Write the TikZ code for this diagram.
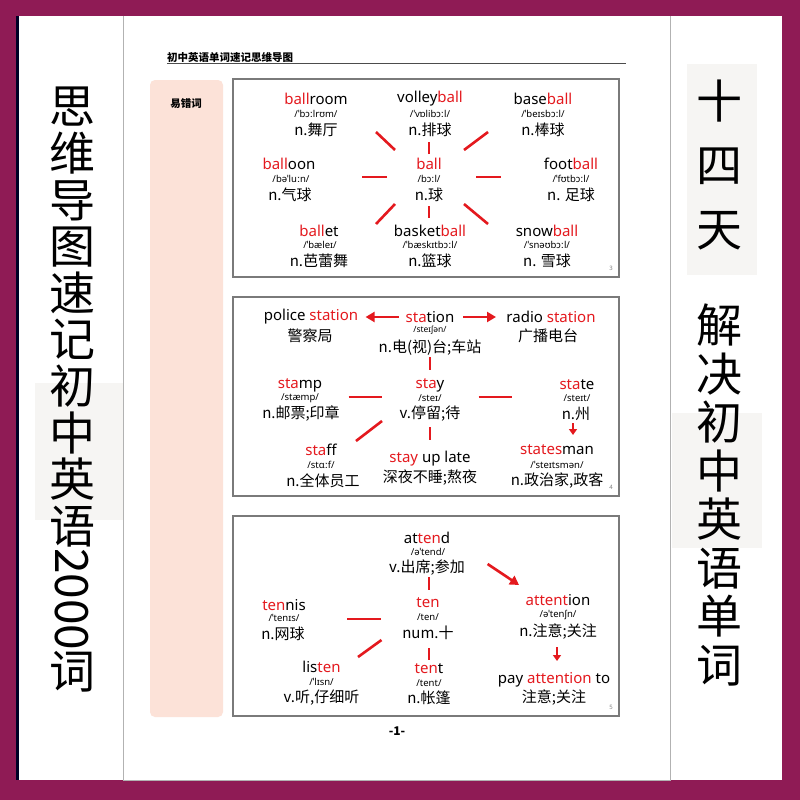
\documentclass[tikz,border=0pt]{standalone}
\usepackage{fontspec}
\setmainfont{Noto Sans}
\newfontfamily\cjk{Noto Sans CJK SC}
\usepackage{xcolor}
\usepackage{graphicx}
\usetikzlibrary{arrows.meta, positioning}

\definecolor{bgmaroon}{HTML}{8F1B55}
\definecolor{accent}{HTML}{E4191E}
\definecolor{pinkbox}{HTML}{FCE2D8}
\definecolor{patch}{HTML}{F6F5F3}
\definecolor{frame}{HTML}{7A7A7A}
\newcommand{\hl}[1]{\textcolor{accent}{#1}}

\begin{document}
\begin{tikzpicture}[
    x=1pt, y=-1pt,
    word/.style={inner sep=0pt, font=\fontsize{15}{15}\selectfont},
    ipa/.style={inner sep=0pt, font=\fontsize{9.5}{9.5}\selectfont},
    mean/.style={inner sep=0pt, font=\cjk\fontsize{15}{15}\selectfont},
    panel/.style={draw=frame, line width=1.3pt, fill=white},
    pagenum/.style={inner sep=0pt, text=gray, font=\fontsize{6}{6}\selectfont},
    sidetext/.style={inner sep=0pt, align=center, font=\cjk\fontsize{46}{46.6}\selectfont},
    ray/.style={draw=accent, line width=2.6pt},
    arrow/.style={ray, -{Triangle[length=9pt, width=10pt]}},
    smallarrow/.style={ray, -{Triangle[length=6pt, width=8pt]}}
]
% background and page
\useasboundingbox (0,0) rectangle (800,800);
\fill[bgmaroon] (0,0) rectangle (800,800);
\fill[white] (16,16) rectangle (782,780);
\fill[black!85!blue] (16,16) rectangle (19,780);
\fill[patch] (35,383) rectangle (123,520);
\fill[patch] (687,64) rectangle (757,275);
\fill[patch] (672,413) rectangle (762,548);
\draw[black!30, line width=0.8pt] (123.5,16) -- (123.5,780) -- (670,780) -- (670,16);

% side titles
\node[sidetext, anchor=north] (lefttop) at (72,87) {思\\维\\导\\图\\速\\记\\初\\中\\英\\语};
\node[sidetext, below=1pt of lefttop] (leftnum) {\rotatebox{-90}{2000}};
\node[sidetext, below=1pt of leftnum] (leftend) {词};
\node[sidetext, anchor=north, font=\cjk\fontsize{46}{64}\selectfont] (righttop) at (719,80) {十\\四\\天};
\node[sidetext, anchor=north, font=\cjk\fontsize{46}{48.5}\selectfont] (rightbot) at (719,304) {解\\决\\初\\中\\英\\语\\单\\词};

% page header
\node[anchor=west, inner sep=0pt, font=\cjk\bfseries\fontsize{10.5}{10.5}\selectfont] (header) at (167,57) {初中英语单词速记思维导图};
\draw[black!70, line width=0.8pt] (167,63) -- (626,63);
\fill[pinkbox, rounded corners=5pt] (150,80) rectangle (223,717);
\node[inner sep=0pt, font=\cjk\bfseries\fontsize{10.5}{10.5}\selectfont] (tag) at (186,104) {易错词};
\node[inner sep=0pt, font=\cjk\bfseries\fontsize{12}{12}\selectfont] (pageno) at (397,731) {-1-};

% panel 1: ball
\draw[panel] (233,79) rectangle (619,277);
\node[pagenum] (p3) at (611,268) {3};
\node[word] (ballroom) at (316,99) {\hl{ball}room};
\node[ipa] (ballroom-ipa) at (316,114) {/ˈbɔːlrʊm/};
\node[mean] (ballroom-cn) at (316,129.5) {n.舞厅};
\node[word] (volleyball) at (430,99) {volley\hl{ball}};
\node[ipa] (volleyball-ipa) at (430,114) {/ˈvɒlibɔːl/};
\node[mean] (volleyball-cn) at (430,129.5) {n.排球};
\node[word] (baseball) at (543,99) {base\hl{ball}};
\node[ipa] (baseball-ipa) at (543,114) {/ˈbeɪsbɔːl/};
\node[mean] (baseball-cn) at (543,129.5) {n.棒球};
\node[word] (balloon) at (289,164) {\hl{ball}oon};
\node[ipa] (balloon-ipa) at (291,179) {/bəˈluːn/};
\node[mean] (balloon-cn) at (290,195) {n.气球};
\node[word] (ball) at (429,164) {\hl{ball}};
\node[ipa] (ball-ipa) at (429,179) {/bɔːl/};
\node[mean] (ball-cn) at (429,195) {n.球};
\node[word] (football) at (571,164) {foot\hl{ball}};
\node[ipa] (football-ipa) at (571,179) {/ˈfʊtbɔːl/};
\node[mean] (football-cn) at (571,195) {n. 足球};
\node[word] (ballet) at (319,230.5) {\hl{ball}et};
\node[ipa] (ballet-ipa) at (320,245) {/ˈbæleɪ/};
\node[mean] (ballet-cn) at (319,261) {n.芭蕾舞};
\node[word] (basketball) at (430,230.5) {basket\hl{ball}};
\node[ipa] (basketball-ipa) at (430,245) {/ˈbæskɪtbɔːl/};
\node[mean] (basketball-cn) at (430,261) {n.篮球};
\node[word] (snowball) at (547,230.5) {snow\hl{ball}};
\node[ipa] (snowball-ipa) at (547,245) {/ˈsnəʊbɔːl/};
\node[mean] (snowball-cn) at (547,261) {n. 雪球};

\coordinate (ul-in) at (395,150); \coordinate (ul-out) at (376,132);
\coordinate (up-in) at (429,154); \coordinate (up-out) at (429,142);
\coordinate (ur-in) at (464,150); \coordinate (ur-out) at (488,132);
\coordinate (lt-in) at (387,177); \coordinate (lt-out) at (362,177);
\coordinate (rt-in) at (476,177); \coordinate (rt-out) at (501,177);
\coordinate (ll-in) at (395,204); \coordinate (ll-out) at (376,224);
\coordinate (dn-in) at (429,206); \coordinate (dn-out) at (429,218);
\coordinate (lr-in) at (464,204); \coordinate (lr-out) at (488,224);
\draw[ray] (ul-in) -- (ul-out);
\draw[ray] (up-in) -- (up-out);
\draw[ray] (ur-in) -- (ur-out);
\draw[ray] (lt-in) -- (lt-out);
\draw[ray] (rt-in) -- (rt-out);
\draw[ray] (ll-in) -- (ll-out);
\draw[ray] (dn-in) -- (dn-out);
\draw[ray] (lr-in) -- (lr-out);

% panel 2: sta
\draw[panel] (233,297) rectangle (619,496);
\node[pagenum] (p4) at (611,487) {4};
\node[word] (police) at (311,317) {police \hl{station}};
\node[mean] (police-cn) at (310,335.6) {警察局};
\node[word] (station) at (430,317) {\hl{sta}tion};
\node[ipa, font=\fontsize{8.5}{8.5}\selectfont] (station-ipa) at (430,330.6) {/steɪʃən/};
\node[mean] (station-cn) at (430,347.5) {n.电(视)台;车站};
\node[word] (radio) at (551,317) {radio \hl{station}};
\node[mean] (radio-cn) at (548,335.6) {广播电台};
\node[word] (stay) at (430,385) {\hl{sta}y};
\node[ipa] (stay-ipa) at (430,398) {/steɪ/};
\node[mean] (stay-cn) at (430,413.6) {v.停留;待};
\node[word] (stamp) at (300,385) {\hl{sta}mp};
\node[ipa] (stamp-ipa) at (300,398) {/stæmp/};
\node[mean] (stamp-cn) at (301,413.6) {n.邮票;印章};
\node[word] (state) at (577,385) {\hl{sta}te};
\node[ipa] (state-ipa) at (577,398) {/steɪt/};
\node[mean] (state-cn) at (576,413.6) {n.州};
\node[word] (statesman) at (557,450) {\hl{states}man};
\node[ipa] (statesman-ipa) at (557,464.5) {/ˈsteɪtsmən/};
\node[mean] (statesman-cn) at (557,481) {n.政治家,政客};
\node[word] (staff) at (321,450) {\hl{sta}ff};
\node[ipa] (staff-ipa) at (321,464.5) {/stɑːf/};
\node[mean] (staff-cn) at (323,481) {n.全体员工};
\node[word] (stayup) at (430,459) {\hl{stay} up late};
\node[mean] (stayup-cn) at (430,478) {深夜不睡;熬夜};

\coordinate (station-l) at (398.5,317); \coordinate (police-r) at (365.6,317);
\coordinate (station-r) at (463,317); \coordinate (radio-l) at (496,317);
\coordinate (station-d) at (430,357); \coordinate (stay-u) at (430,369.6);
\coordinate (stamp-r) at (348.6,397); \coordinate (stay-l) at (382,397);
\coordinate (stay-r) at (478.5,397); \coordinate (state-l) at (512,397);
\coordinate (stay-dl) at (382,421); \coordinate (staff-ur) at (356,441);
\coordinate (stay-d) at (430,427); \coordinate (stayup-u) at (430,440);
\coordinate (state-d) at (573,423); \coordinate (statesman-u) at (573,435);
\draw[arrow] (station-l) -- (police-r);
\draw[arrow] (station-r) -- (radio-l);
\draw[ray] (station-d) -- (stay-u);
\draw[ray] (stamp-r) -- (stay-l);
\draw[ray] (stay-r) -- (state-l);
\draw[ray] (stay-dl) -- (staff-ur);
\draw[ray] (stay-d) -- (stayup-u);
\draw[smallarrow] (state-d) -- (statesman-u);

% panel 3: ten
\draw[panel] (233,516) rectangle (619,716);
\node[pagenum] (p5) at (611,707) {5};
\node[word] (attend) at (427,538) {at\hl{ten}d};
\node[ipa] (attend-ipa) at (428,552) {/əˈtend/};
\node[mean] (attend-cn) at (427,567.5) {v.出席;参加};
\node[word] (ten) at (428,602.5) {\hl{ten}};
\node[ipa] (ten-ipa) at (428,616.7) {/ten/};
\node[mean] (ten-cn) at (428,633) {num.十};
\node[word] (tennis) at (284,605) {\hl{ten}nis};
\node[ipa] (tennis-ipa) at (284,618) {/ˈtenɪs/};
\node[mean] (tennis-cn) at (283,634) {n.网球};
\node[word] (attention) at (558,600) {\hl{attent}ion};
\node[ipa] (attention-ipa) at (558,615) {/əˈtenʃn/};
\node[mean] (attention-cn) at (558,632) {n.注意;关注};
\node[word] (payatt) at (554,680) {pay \hl{attention} to};
\node[mean] (payatt-cn) at (554,698) {注意;关注};
\node[word] (listen) at (321.5,666.5) {lis\hl{ten}};
\node[ipa] (listen-ipa) at (321.5,682) {/ˈlɪsn/};
\node[mean] (listen-cn) at (321.5,698) {v.听,仔细听};
\node[word] (tent) at (429,668.6) {\hl{ten}t};
\node[ipa] (tent-ipa) at (429,683) {/tent/};
\node[mean] (tent-cn) at (429,698) {n.帐篷};

\coordinate (attend-d) at (429,577); \coordinate (ten-u) at (429,590);
\coordinate (attend-r) at (487.6,564); \coordinate (attention-u) at (519,585);
\coordinate (tennis-r) at (347,619); \coordinate (ten-l) at (381,619);
\coordinate (ten-dl) at (381.5,640); \coordinate (listen-ur) at (358,657);
\coordinate (ten-d) at (429,648); \coordinate (tent-u) at (429,660);
\coordinate (attention-d) at (557,647); \coordinate (payatt-u) at (557,661);
\draw[ray] (attend-d) -- (ten-u);
\draw[arrow] (attend-r) -- (attention-u);
\draw[ray] (tennis-r) -- (ten-l);
\draw[ray] (ten-dl) -- (listen-ur);
\draw[ray] (ten-d) -- (tent-u);
\draw[smallarrow] (attention-d) -- (payatt-u);
\end{tikzpicture}
\end{document}
